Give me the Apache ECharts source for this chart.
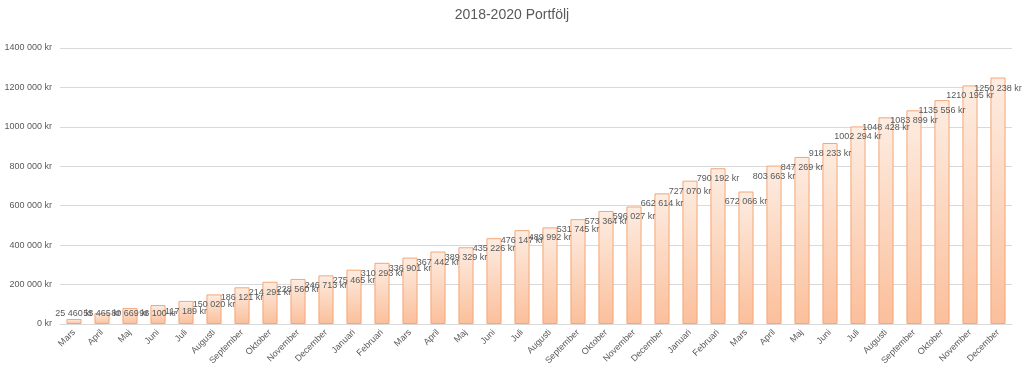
<!DOCTYPE html>
<html>
<head>
<meta charset="utf-8">
<script src="https://cdn.jsdelivr.net/npm/echarts@6/dist/echarts.min.js"></script>
<style>
  html, body { margin: 0; padding: 0; background: #fff; }
  #chart { width: 1024px; height: 375px; }
</style>
</head>
<body>
<div id="chart"></div>
<script>
const months = [
  'Mars', 'April', 'Maj', 'Juni', 'Juli', 'Augusti', 'September', 'Oktober', 'November', 'December',
  'Januari', 'Februari', 'Mars', 'April', 'Maj', 'Juni', 'Juli', 'Augusti', 'September', 'Oktober', 'November', 'December',
  'Januari', 'Februari', 'Mars', 'April', 'Maj', 'Juni', 'Juli', 'Augusti', 'September', 'Oktober', 'November', 'December'
]

const portfolio = [
  25460, 55465, 80669, 96100, 117189, 150020, 186121, 214291, 228560, 246713,
  275465, 310293, 336901, 367442, 389329, 435226, 476147, 489992, 531745, 573364, 596027, 662614,
  727070, 790192, 672066, 803663, 847269, 918233, 1002294, 1048428, 1083899, 1135556, 1210195, 1250238
]

const yMax = 1400000
const yStep = 200000

// Excel-formatet "### ##0 kr" -> bara en tusentalsavgränsare
const kr = (v) => {
  if (v < 1000) return v + ' kr'
  const rest = String(v % 1000).padStart(3, '0')
  return Math.floor(v / 1000) + ' ' + rest + ' kr'
}

const chart = echarts.init(document.getElementById('chart'))

const gridTop = 48
const gridBottom = 51
const plotH = 375 - gridTop - gridBottom

const barColor = {
  type: 'linear', x: 0, y: 0, x2: 0, y2: 1,
  colorStops: [
    { offset: 0, color: '#fdede2' },
    { offset: 1, color: '#fbbf9b' }
  ]
}

const option = {
  animation: false,
  textStyle: { fontFamily: 'Liberation Sans' },
  title: {
    text: '2018-2020 Portfölj',
    left: 'center',
    top: 3,
    textStyle: { fontSize: 14, fontWeight: 'normal', color: '#595959', fontFamily: 'Liberation Sans' }
  },
  grid: { left: 60, right: 12, top: gridTop, bottom: gridBottom },
  xAxis: {
    type: 'category',
    data: months,
    axisLine: { lineStyle: { color: '#d9d9d9' } },
    axisTick: { show: false },
    axisLabel: { rotate: 45, fontSize: 9, color: '#595959', margin: 7, interval: 0 }
  },
  yAxis: {
    type: 'value',
    min: 0,
    max: yMax,
    interval: yStep,
    axisLine: { show: false },
    axisTick: { show: false },
    splitLine: { lineStyle: { color: '#d9d9d9' } },
    axisLabel: { fontSize: 9, color: '#595959', margin: 8, formatter: kr }
  },
  series: [
    {
      type: 'bar',
      barWidth: '54%',
      data: portfolio.map(v => {
        const h = v / yMax * plotH
        return {
          value: v,
          label: h < 22
            ? { position: 'insideBottom', distance: 6 }
            : { position: 'insideTop', distance: 6 }
        }
      }),
      itemStyle: {
        color: barColor,
        borderColor: '#f4a777',
        borderWidth: 1
      },
      label: {
        show: true,
        fontSize: 9,
        color: '#595959',
        formatter: (p) => kr(p.value)
      }
    }
  ]
}

chart.setOption(option)
</script>
</body>
</html>
